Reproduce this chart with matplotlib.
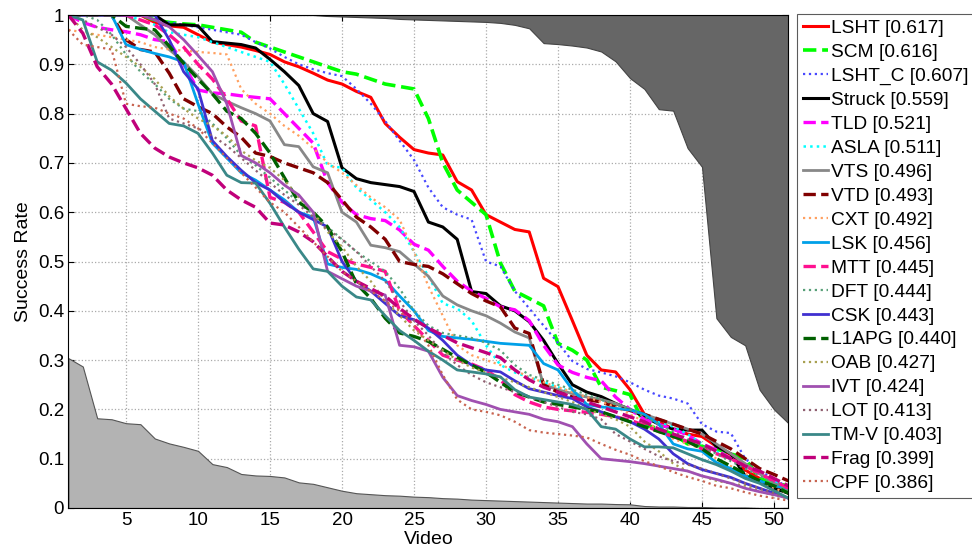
import matplotlib
matplotlib.use("Agg")
import matplotlib.pyplot as plt
import numpy as np

plt.rcParams['font.family'] = ['Liberation Sans', 'DejaVu Sans']

videos = list(range(1, 52))

upper_bound = [1.0]*18 + [0.998, 0.997, 0.996, 0.995, 0.994, 0.992, 0.991, 0.990, 0.989, 0.988,
               0.987, 0.986, 0.984, 0.980, 0.973, 0.943, 0.941, 0.938, 0.934, 0.926,
               0.906, 0.872, 0.850, 0.809, 0.806, 0.730, 0.692, 0.385, 0.347, 0.330,
               0.240, 0.200, 0.172]
lower_bound = [0.304, 0.287, 0.182, 0.180, 0.172, 0.170, 0.141, 0.131, 0.124, 0.116,
               0.089, 0.083, 0.069, 0.066, 0.065, 0.062, 0.052, 0.049, 0.042, 0.035,
               0.030, 0.028, 0.026, 0.025, 0.023, 0.022, 0.020, 0.019, 0.017, 0.016,
               0.015, 0.014, 0.013, 0.012, 0.011, 0.010, 0.009, 0.009, 0.008, 0.0075,
               0.004, 0.003, 0.003, 0.002, 0.002, 0.001, 0.001, 0.001, 0.0, 0.0, 0.0]

LSHT = [1, 1, 1, 1, 1, 1, 0.985, 0.978, 0.975, 0.96, 0.945, 0.94, 0.935, 0.928, 0.92, 0.905, 0.895,
        0.882, 0.868, 0.86, 0.845, 0.833, 0.78, 0.752, 0.727, 0.72, 0.716, 0.662, 0.645, 0.595,
        0.58, 0.565, 0.56, 0.466, 0.449, 0.38, 0.31, 0.28, 0.276, 0.24, 0.19, 0.175, 0.16, 0.15,
        0.145, 0.125, 0.108, 0.077, 0.06, 0.045, 0.03]
SCM = [1, 1, 1, 1, 1, 1, 0.99, 0.985, 0.982, 0.98, 0.975, 0.97, 0.965, 0.945, 0.935, 0.925, 0.915,
       0.905, 0.895, 0.885, 0.88, 0.87, 0.86, 0.855, 0.85, 0.79, 0.7, 0.645, 0.62, 0.595, 0.497,
       0.44, 0.425, 0.41, 0.334, 0.32, 0.30, 0.245, 0.238, 0.23, 0.17, 0.16, 0.15, 0.13, 0.125,
       0.12, 0.11, 0.1, 0.06, 0.05, 0.045]
LSHT_C = [1, 1, 1, 1, 1, 1, 0.99, 0.985, 0.98, 0.975, 0.97, 0.965, 0.96, 0.945, 0.932, 0.915, 0.9,
          0.89, 0.882, 0.876, 0.85, 0.82, 0.785, 0.745, 0.706, 0.65, 0.61, 0.595, 0.585, 0.5, 0.49,
          0.44, 0.405, 0.37, 0.335, 0.298, 0.282, 0.275, 0.267, 0.255, 0.24, 0.228, 0.222, 0.212,
          0.17, 0.155, 0.152, 0.1, 0.075, 0.06, 0.04]
Struck = [1, 1, 1, 1, 1, 1, 1, 0.98, 0.98, 0.978, 0.946, 0.943, 0.94, 0.933, 0.91, 0.885, 0.857,
          0.8, 0.784, 0.69, 0.668, 0.66, 0.656, 0.652, 0.642, 0.58, 0.57, 0.545, 0.439, 0.435, 0.41,
          0.4, 0.378, 0.34, 0.293, 0.25, 0.235, 0.226, 0.212, 0.2, 0.185, 0.17, 0.16, 0.158, 0.158,
          0.125, 0.11, 0.065, 0.055, 0.04, 0.03]
TLD = [1, 0.985, 0.975, 0.97, 0.966, 0.96, 0.95, 0.946, 0.9, 0.848, 0.842, 0.84, 0.836, 0.833, 0.83,
       0.8, 0.77, 0.74, 0.66, 0.62, 0.595, 0.587, 0.583, 0.564, 0.535, 0.523, 0.49, 0.46, 0.44, 0.425,
       0.408, 0.402, 0.38, 0.33, 0.29, 0.275, 0.265, 0.258, 0.225, 0.2, 0.18, 0.17, 0.16, 0.148,
       0.13, 0.118, 0.1, 0.085, 0.07, 0.055, 0.04]
ASLA = [1, 1, 1, 1, 1, 0.99, 0.98, 0.965, 0.96, 0.955, 0.945, 0.935, 0.925, 0.915, 0.905, 0.86,
        0.81, 0.76, 0.695, 0.69, 0.65, 0.625, 0.6, 0.57, 0.52, 0.47, 0.415, 0.405, 0.38, 0.33, 0.29,
        0.275, 0.265, 0.255, 0.245, 0.235, 0.225, 0.22, 0.21, 0.2, 0.19, 0.175, 0.165, 0.15, 0.13,
        0.115, 0.1, 0.085, 0.07, 0.055, 0.04]
VTS = [1, 1, 1, 1, 1, 0.98, 0.96, 0.93, 0.905, 0.875, 0.84, 0.825, 0.812, 0.8, 0.785, 0.737, 0.733,
       0.692, 0.68, 0.6, 0.58, 0.533, 0.528, 0.52, 0.495, 0.47, 0.43, 0.412, 0.4, 0.39, 0.375, 0.357,
       0.345, 0.25, 0.24, 0.232, 0.225, 0.22, 0.212, 0.2, 0.19, 0.18, 0.17, 0.16, 0.15, 0.13, 0.11,
       0.09, 0.07, 0.05, 0.035]
VTD = [1, 1, 1, 1, 0.95, 0.93, 0.925, 0.882, 0.83, 0.814, 0.8, 0.773, 0.752, 0.72, 0.713, 0.7, 0.69,
       0.68, 0.66, 0.625, 0.59, 0.57, 0.545, 0.5, 0.494, 0.49, 0.475, 0.455, 0.435, 0.42, 0.408, 0.365,
       0.354, 0.25, 0.235, 0.225, 0.22, 0.215, 0.205, 0.198, 0.19, 0.18, 0.17, 0.16, 0.15, 0.135,
       0.12, 0.1, 0.08, 0.068, 0.055]
CXT = [0.97, 0.965, 0.96, 0.955, 0.95, 0.945, 0.935, 0.93, 0.928, 0.925, 0.923, 0.92, 0.85, 0.82,
       0.8, 0.775, 0.755, 0.73, 0.7, 0.68, 0.655, 0.63, 0.61, 0.585, 0.52, 0.45, 0.39, 0.33, 0.31, 0.3,
       0.29, 0.28, 0.265, 0.255, 0.245, 0.235, 0.225, 0.215, 0.205, 0.19, 0.175, 0.16, 0.14, 0.13,
       0.12, 0.1, 0.085, 0.07, 0.055, 0.04, 0.03]
LSK = [1, 1, 1, 1, 0.94, 0.93, 0.922, 0.915, 0.905, 0.82, 0.74, 0.71, 0.68, 0.665, 0.645, 0.625,
       0.6, 0.59, 0.495, 0.488, 0.484, 0.475, 0.462, 0.43, 0.4, 0.36, 0.348, 0.345, 0.342, 0.338,
       0.334, 0.332, 0.33, 0.293, 0.28, 0.24, 0.21, 0.205, 0.202, 0.199, 0.19, 0.17, 0.13, 0.12,
       0.115, 0.092, 0.08, 0.065, 0.055, 0.045, 0.04]
MTT = [1, 1, 1, 1, 1, 0.99, 0.98, 0.96, 0.935, 0.9, 0.87, 0.83, 0.785, 0.775, 0.63, 0.62, 0.6,
       0.56, 0.52, 0.505, 0.495, 0.488, 0.48, 0.4, 0.37, 0.34, 0.31, 0.3, 0.292, 0.28, 0.26, 0.23,
       0.215, 0.205, 0.2, 0.197, 0.194, 0.19, 0.185, 0.178, 0.168, 0.155, 0.145, 0.135, 0.12, 0.11,
       0.1, 0.085, 0.07, 0.055, 0.04]
DFT = [1, 1, 0.99, 0.96, 0.92, 0.885, 0.86, 0.83, 0.81, 0.805, 0.78, 0.75, 0.715, 0.695, 0.67,
       0.645, 0.62, 0.595, 0.57, 0.545, 0.52, 0.5, 0.48, 0.445, 0.4, 0.37, 0.355, 0.35, 0.345, 0.335,
       0.32, 0.29, 0.27, 0.26, 0.25, 0.24, 0.23, 0.22, 0.21, 0.2, 0.185, 0.17, 0.155, 0.14, 0.125,
       0.11, 0.095, 0.08, 0.065, 0.05, 0.035]
CSK = [1, 1, 1, 1, 1, 1, 1, 0.95, 0.885, 0.85, 0.745, 0.713, 0.685, 0.66, 0.645, 0.62, 0.6, 0.585,
       0.57, 0.5, 0.46, 0.44, 0.415, 0.39, 0.382, 0.365, 0.34, 0.31, 0.29, 0.28, 0.276, 0.258, 0.242,
       0.235, 0.228, 0.222, 0.205, 0.195, 0.185, 0.175, 0.16, 0.14, 0.11, 0.09, 0.078, 0.07, 0.062,
       0.05, 0.04, 0.03, 0.02]
L1APG = [1, 1, 1, 1, 0.977, 0.973, 0.97, 0.937, 0.902, 0.87, 0.84, 0.805, 0.79, 0.76, 0.72, 0.67,
         0.62, 0.6, 0.57, 0.52, 0.455, 0.425, 0.385, 0.355, 0.348, 0.338, 0.322, 0.305, 0.29, 0.275,
         0.255, 0.235, 0.225, 0.215, 0.21, 0.205, 0.2, 0.195, 0.185, 0.175, 0.165, 0.155, 0.145,
         0.135, 0.12, 0.1, 0.085, 0.07, 0.055, 0.045, 0.03]
OAB = [1, 0.97, 0.955, 0.935, 0.915, 0.895, 0.87, 0.835, 0.81, 0.79, 0.775, 0.755, 0.725, 0.705,
       0.69, 0.665, 0.63, 0.6, 0.56, 0.53, 0.49, 0.46, 0.42, 0.39, 0.36, 0.34, 0.32, 0.3, 0.285,
       0.275, 0.265, 0.255, 0.245, 0.235, 0.225, 0.215, 0.2, 0.19, 0.18, 0.165, 0.135, 0.115, 0.09,
       0.075, 0.065, 0.055, 0.05, 0.045, 0.035, 0.025, 0.02]
IVT = [1, 1, 1, 1, 1, 1, 0.99, 0.976, 0.95, 0.918, 0.885, 0.82, 0.715, 0.7, 0.68, 0.655, 0.635,
       0.6, 0.48, 0.465, 0.45, 0.44, 0.432, 0.33, 0.327, 0.318, 0.265, 0.228, 0.218, 0.21, 0.2, 0.195,
       0.19, 0.18, 0.175, 0.165, 0.13, 0.1, 0.097, 0.094, 0.09, 0.085, 0.08, 0.075, 0.065, 0.058,
       0.05, 0.04, 0.033, 0.027, 0.02]
LOT = [1, 0.99, 0.975, 0.96, 0.935, 0.9, 0.86, 0.79, 0.78, 0.77, 0.755, 0.735, 0.71, 0.685, 0.66,
       0.635, 0.615, 0.59, 0.565, 0.545, 0.52, 0.49, 0.46, 0.42, 0.38, 0.35, 0.315, 0.29, 0.27, 0.255,
       0.245, 0.235, 0.225, 0.215, 0.205, 0.195, 0.19, 0.18, 0.15, 0.135, 0.12, 0.105, 0.095, 0.088,
       0.08, 0.07, 0.06, 0.05, 0.04, 0.03, 0.02]
TM_V = [1, 0.99, 0.905, 0.888, 0.862, 0.83, 0.805, 0.78, 0.775, 0.76, 0.72, 0.675, 0.66, 0.659,
        0.618, 0.57, 0.525, 0.485, 0.48, 0.45, 0.428, 0.422, 0.39, 0.36, 0.34, 0.318, 0.3, 0.28,
        0.276, 0.272, 0.266, 0.24, 0.225, 0.22, 0.215, 0.21, 0.2, 0.165, 0.16, 0.14, 0.124, 0.124,
        0.122, 0.11, 0.098, 0.088, 0.075, 0.06, 0.05, 0.035, 0.02]
Frag = [1, 0.963, 0.895, 0.86, 0.81, 0.76, 0.73, 0.712, 0.7, 0.69, 0.675, 0.645, 0.625, 0.61,
        0.578, 0.574, 0.56, 0.54, 0.51, 0.48, 0.46, 0.445, 0.43, 0.405, 0.383, 0.365, 0.35, 0.335,
        0.325, 0.315, 0.305, 0.28, 0.26, 0.245, 0.235, 0.225, 0.215, 0.205, 0.195, 0.185, 0.175,
        0.16, 0.15, 0.14, 0.13, 0.115, 0.1, 0.085, 0.075, 0.06, 0.045]
CPF = [0.97, 0.94, 0.935, 0.93, 0.82, 0.815, 0.812, 0.8, 0.79, 0.77, 0.74, 0.71, 0.68, 0.65, 0.62,
       0.6, 0.57, 0.54, 0.51, 0.48, 0.46, 0.44, 0.42, 0.4, 0.37, 0.33, 0.27, 0.22, 0.2, 0.195, 0.188,
       0.175, 0.158, 0.153, 0.15, 0.147, 0.143, 0.13, 0.118, 0.108, 0.095, 0.085, 0.073, 0.063,
       0.055, 0.045, 0.04, 0.032, 0.025, 0.02, 0.015]

labels = ["LSHT [0.617]", "SCM [0.616]", "LSHT_C [0.607]", "Struck [0.559]", "TLD [0.521]",
          "ASLA [0.511]", "VTS [0.496]", "VTD [0.493]", "CXT [0.492]", "LSK [0.456]",
          "MTT [0.445]", "DFT [0.444]", "CSK [0.443]", "L1APG [0.440]", "OAB [0.427]",
          "IVT [0.424]", "LOT [0.413]", "TM-V [0.403]", "Frag [0.399]", "CPF [0.386]"]
series = [LSHT, SCM, LSHT_C, Struck, TLD, ASLA, VTS, VTD, CXT, LSK,
          MTT, DFT, CSK, L1APG, OAB, IVT, LOT, TM_V, Frag, CPF]
colors = ['#FF0000', '#00FF00', '#4848FF', '#000000', '#FF00FF', '#00FFFF', '#888888', '#800000',
          '#FFA060', '#00A0E8', '#FF1090', '#58A078', '#4030D0', '#006000', '#A8A050', '#A050B0',
          '#906070', '#3A8888', '#C0007A', '#C86450']
styles = ['-', '--', ':', '-', '--', ':', '-', '--', ':', '-',
          '--', ':', '-', '--', ':', '-', ':', '-', '--', ':']
widths = [2.2, 2.6, 1.6, 2.2, 2.4, 1.8, 2.0, 2.4, 1.6, 2.0,
          2.4, 1.6, 2.0, 2.4, 1.6, 2.0, 1.6, 2.0, 2.4, 1.6]

fig = plt.figure(figsize=(9.72, 5.56), dpi=100)
ax = fig.add_axes([68.4/972, 48/556, 720/972, 493/556])

x = np.array(videos)
ax.fill_between(x, upper_bound, 1.0, facecolor='#666666', edgecolor='#444444', linewidth=0.8, zorder=1)
ax.fill_between(x, 0, lower_bound, facecolor='#B3B3B3', edgecolor='#555555', linewidth=0.8, zorder=1)

for ys, c, ls, lw, lab in zip(series, colors, styles, widths, labels):
    ax.plot(x, ys, color=c, linestyle=ls, linewidth=lw, label=lab, zorder=3)

ax.set_xlim(1, 51)
ax.set_ylim(0, 1)
ax.set_xticks([5, 10, 15, 20, 25, 30, 35, 40, 45, 50])
ax.set_yticks([0, 0.1, 0.2, 0.3, 0.4, 0.5, 0.6, 0.7, 0.8, 0.9, 1.0])
ax.set_yticklabels(["0", "0.1", "0.2", "0.3", "0.4", "0.5", "0.6", "0.7", "0.8", "0.9", "1"])
ax.tick_params(direction='in', top=True, right=True, labelsize=13.5, length=4, pad=3)
ax.grid(True, linestyle=':', color='#AAAAAA', linewidth=0.9, zorder=0)
ax.set_axisbelow(True)
ax.set_xlabel("Video", fontsize=14, labelpad=1)
ax.set_ylabel("Success Rate", fontsize=14, labelpad=4)
for sp in ax.spines.values():
    sp.set_linewidth(0.8)
    sp.set_zorder(5)

leg = fig.legend(loc='upper left', bbox_to_anchor=(797/972, 542/556), fontsize=13.8,
                 frameon=True, fancybox=False, edgecolor='#333333', handlelength=1.3,
                 handletextpad=0.15, labelspacing=0.34, borderpad=0.3, borderaxespad=0)
leg.get_frame().set_linewidth(0.8)

fig.savefig("out.png", dpi=100)
